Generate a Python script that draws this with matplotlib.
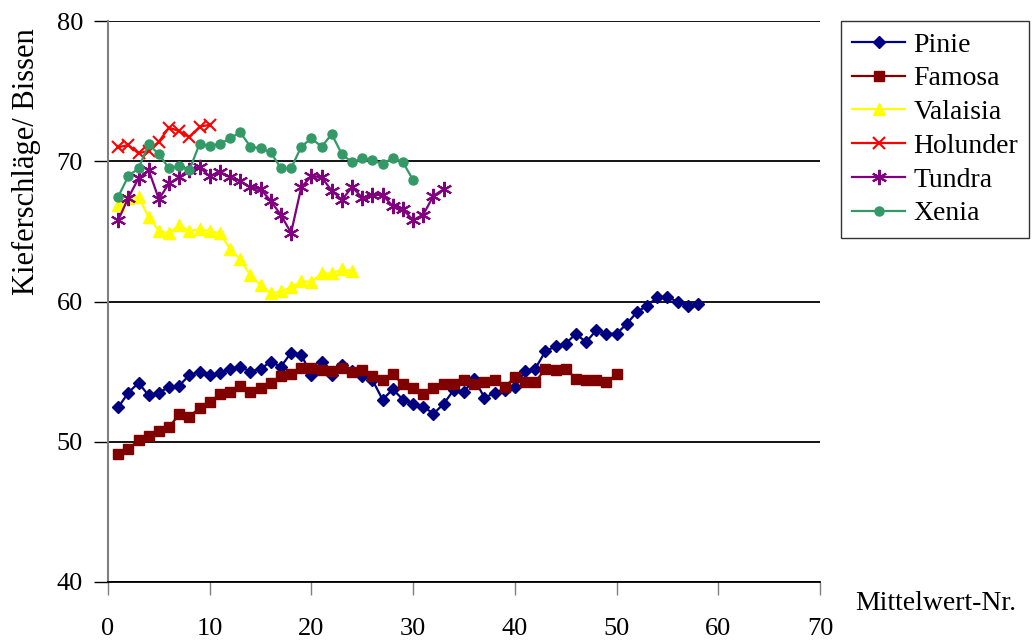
import matplotlib
matplotlib.use("Agg")
import matplotlib.pyplot as plt

plt.rcParams['font.family'] = ['Liberation Serif', 'DejaVu Serif']

# Mittelwerte je Sorte (Kieferschläge pro Bissen)
pinie = [52.45, 53.5, 54.2, 53.3, 53.5, 53.9, 54.0, 54.75, 55.0, 54.75,
         54.9, 55.2, 55.35, 55.0, 55.2, 55.7, 55.35, 56.35, 56.2, 54.75,
         55.7, 54.75, 55.5, 55.05, 54.7, 54.4, 53.0, 53.75, 53.0, 52.7,
         52.5, 52.0, 52.7, 53.7, 53.55, 54.5, 53.15, 53.45, 53.7, 53.9,
         55.05, 55.2, 56.45, 56.8, 57.0, 57.7, 57.1, 57.95, 57.7, 57.7,
         58.4, 59.25, 59.7, 60.3, 60.3, 60.0, 59.7, 59.85]
famosa = [49.1, 49.5, 50.1, 50.4, 50.8, 51.05, 51.95, 51.8, 52.4, 52.8,
          53.4, 53.55, 54.0, 53.55, 53.8, 54.2, 54.7, 54.8, 55.25, 55.25,
          55.1, 55.05, 55.25, 54.95, 55.1, 54.7, 54.4, 54.8, 54.1, 53.8,
          53.4, 53.8, 54.1, 54.1, 54.4, 54.1, 54.25, 54.4, 53.9, 54.6,
          54.25, 54.25, 55.2, 55.1, 55.2, 54.5, 54.4, 54.4, 54.25, 54.8]
valaisia = [66.88, 67.35, 67.47, 66.0, 65.02, 64.86, 65.45, 65.02, 65.16, 65.02,
            64.86, 63.74, 63.0, 61.88, 61.17, 60.58, 60.74, 61.0, 61.45, 61.4,
            62.0, 62.0, 62.3, 62.17]
holunder = [70.99, 71.16, 70.56, 70.75, 71.4, 72.4, 72.15, 71.7, 72.46, 72.6]
tundra = [65.8, 67.4, 68.78, 69.37, 67.3, 68.42, 68.85, 69.37, 69.56, 68.94,
          69.25, 68.85, 68.59, 68.14, 68.0, 67.18, 66.16, 64.9, 68.14, 68.94,
          68.85, 67.9, 67.25, 68.16, 67.4, 67.6, 67.6, 66.8, 66.57, 65.8,
          66.2, 67.54, 68.0]
xenia = [67.47, 68.94, 69.5, 71.2, 70.5, 69.5, 69.66, 69.37, 71.23, 71.1,
         71.23, 71.63, 72.06, 71.04, 70.92, 70.63, 69.5, 69.5, 71.04, 71.63,
         71.04, 71.92, 70.5, 69.92, 70.2, 70.09, 69.78, 70.25, 69.92, 68.66]

series = [
    ("Pinie", pinie, "#000080", dict(marker="D", ms=6)),
    ("Famosa", famosa, "#800000", dict(marker="s", ms=6.5)),
    ("Valaisia", valaisia, "#FFFF00", dict(marker="^", ms=8)),
    ("Holunder", holunder, "#FF0000", dict(marker="x", ms=8, mew=1.5)),
    ("Tundra", tundra, "#800080", dict(marker=(6, 2, 0), ms=11, mew=1.5)),
    ("Xenia", xenia, "#339966", dict(marker="o", ms=6.5)),
]

fig = plt.figure(figsize=(10.33, 6.44), dpi=100)
ax = fig.add_axes([108 / 1033, 1 - 582 / 644, (820 - 108) / 1033, (582 - 21) / 644])

for name, vals, col, mk in series:
    xs = range(1, len(vals) + 1)
    ax.plot(xs, vals, color=col, lw=1.6, label=name,
            markerfacecolor=col, markeredgecolor=col, **mk)

ax.set_xlim(0, 70)
ax.set_ylim(40, 80)
ax.set_xticks(range(0, 71, 10))
ax.set_yticks(range(40, 81, 10))
ax.yaxis.grid(True, color="black", lw=1.3)
ax.set_axisbelow(True)

for s in ["top", "right"]:
    ax.spines[s].set_visible(False)
ax.spines["left"].set_color("#808080")
ax.spines["left"].set_linewidth(1.5)
ax.spines["bottom"].set_color("black")
ax.spines["bottom"].set_linewidth(1.3)

ax.tick_params(axis="x", direction="out", length=9, width=1, color="#808080",
               pad=17, labelsize=19)
ax.tick_params(axis="y", direction="out", length=10, width=1, color="black",
               pad=8, labelsize=19)

fig.text(855 / 1033, 1 - 603 / 644, "Mittelwert-Nr.", fontsize=20,
         ha="left", va="center")
fig.text(26 / 1033, 1 - 162 / 644, "Kieferschläge/ Bissen", fontsize=22,
         rotation=90, ha="center", va="center")

leg = ax.legend(loc="upper left", bbox_to_anchor=(841 / 1033, 1 - 21 / 644),
                bbox_transform=fig.transFigure, fontsize=20, frameon=True,
                fancybox=False, edgecolor="black", handlelength=1.9,
                handletextpad=0.3, labelspacing=0.3, borderpad=0.4,
                borderaxespad=0)
leg.get_frame().set_linewidth(1.0)

fig.savefig("out.png", dpi=100)
